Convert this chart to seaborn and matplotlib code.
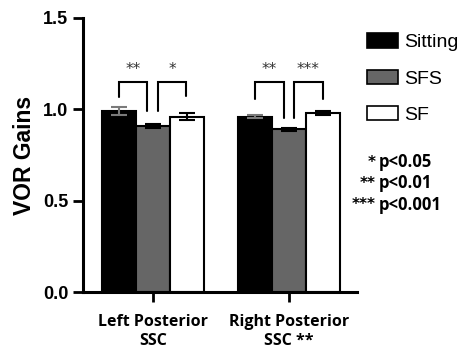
import matplotlib
matplotlib.use("Agg")
import matplotlib.pyplot as plt
import matplotlib.patches as mpatches
import seaborn as sns
import pandas as pd

groups = ["Left Posterior\nSSC", "Right Posterior\nSSC **"]
conditions = ["Sitting", "SFS", "SF"]
sitting = [0.99, 0.96]
sfs = [0.91, 0.89]
sf = [0.96, 0.98]
sitting_err = [0.02, 0.01]
sfs_err = [0.01, 0.01]
sf_err = [0.02, 0.01]
bar_colors = ["#000000", "#666666", "#ffffff"]
err_colors = ["#7a7a7a", "#000000", "#000000"]

# brackets: (group index, left offset, right offset, left leg bottom, right leg bottom, stars)
brackets = [
    (0, -0.25, -0.04, 1.065, 0.99, "**"),
    (0, 0.035, 0.245, 0.99, 1.07, "*"),
    (1, -0.25, -0.04, 1.055, 0.955, "**"),
    (1, 0.035, 0.25, 0.955, 1.055, "***"),
]
bracket_top = 1.15
sig_stars = ["*", "**", "***"]
sig_labels = ["p<0.05", "p<0.01", "p<0.001"]

df = pd.DataFrame({
    "group": groups * 3,
    "condition": [c for c in conditions for _ in groups],
    "value": sitting + sfs + sf,
    "err": sitting_err + sfs_err + sf_err,
})

sns.set_style("ticks")
plt.rcParams["font.family"] = ["Liberation Sans", "DejaVu Sans"]
for key in ["text.color", "axes.labelcolor", "xtick.color", "ytick.color"]:
    plt.rcParams[key] = "black"

fig = plt.figure(figsize=(4.68, 3.51), dpi=100)
ax = fig.add_axes([0.177, 0.168, 0.586, 0.781])

sns.barplot(data=df, x="group", y="value", hue="condition", hue_order=conditions,
            palette=bar_colors, edgecolor="black", linewidth=1.5, width=0.75,
            errorbar=None, legend=False, ax=ax)

bars = [p for p in ax.patches if isinstance(p, mpatches.Rectangle)][:len(df)]
for i, p in enumerate(bars):
    cx = p.get_x() + p.get_width() / 2
    ax.errorbar(cx, df["value"][i], yerr=df["err"][i], fmt="none",
                ecolor=err_colors[i // len(groups)], elinewidth=1.5,
                capsize=6, capthick=1.5, zorder=5)

for g, lo, ro, lb, rb, s in brackets:
    xl, xr = g + lo, g + ro
    ax.plot([xl, xl, xr, xr], [lb, bracket_top, bracket_top, rb],
            color="black", lw=1.5, solid_joinstyle="miter", clip_on=False)
    ax.text((xl + xr) / 2, 1.215, s, ha="center", va="center",
            fontsize=11, color="#333333", family="DejaVu Sans")

ax.set_ylim(0, 1.5)
ax.set_xlim(-0.515, 1.5)
ax.set_yticks([0.0, 0.5, 1.0, 1.5])
ax.set_yticklabels(["0.0", "0.5", "1.0", "1.5"], fontsize=13, fontweight="bold")
ax.set_xticks([0, 1])
ax.set_xticklabels(groups, fontsize=11.5, fontweight="bold",
                   family=["Open Sans", "DejaVu Sans"], linespacing=1.2)
ax.set_xlabel("")
ax.set_ylabel("VOR Gains", fontsize=16.5, fontweight="bold", labelpad=5)
ax.tick_params(axis="both", width=2, length=7, direction="out", color="black")
ax.tick_params(axis="x", pad=9)
for side in ["top", "right"]:
    ax.spines[side].set_visible(False)
for side in ["left", "bottom"]:
    ax.spines[side].set_linewidth(2.2)
    ax.spines[side].set_color("black")

handles = [mpatches.Patch(facecolor=c, edgecolor="black", linewidth=1.2) for c in bar_colors]
fig.legend(handles, conditions, loc="upper left", bbox_to_anchor=(0.785, 0.905),
           frameon=False, fontsize=14, handlelength=1.55, handleheight=0.75,
           handletextpad=0.35, labelspacing=0.95, borderaxespad=0, borderpad=0)

for k, (st, lab) in enumerate(zip(sig_stars, sig_labels)):
    yy = 1 - (162 + 21.5 * k) / 351
    fig.text(376 / 468, yy, st, ha="right", va="center", fontsize=11,
             fontweight="bold", family="DejaVu Sans")
    fig.text(379 / 468, yy, lab, ha="left", va="center", fontsize=12,
             fontweight="bold", family=["Open Sans", "DejaVu Sans"])

fig.savefig("out.png", dpi=100)
